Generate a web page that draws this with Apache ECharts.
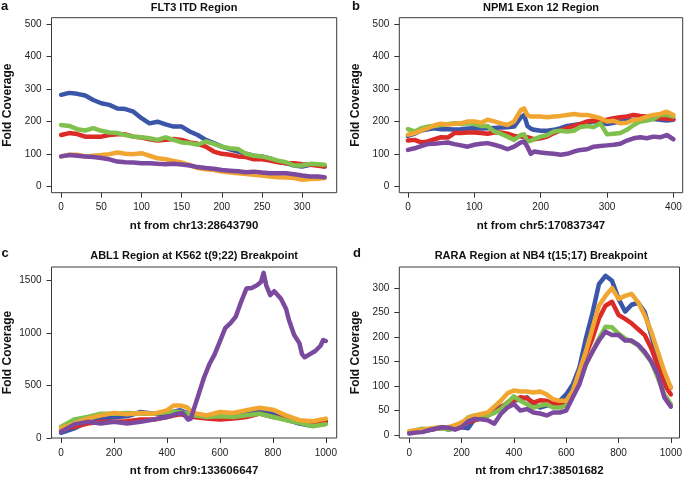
<!DOCTYPE html>
<html><head><meta charset="utf-8">
<script src="https://cdn.jsdelivr.net/npm/echarts@6/dist/echarts.min.js"></script>
<style>html,body{margin:0;padding:0;background:#fff}#c{width:685px;height:478px}</style>
</head><body><div id="c"></div>
<script>
// ---------- Panel a: FLT3 ITD Region ----------
const aX = [0,10,20,30,40,50,60,70,80,90,100,110,120,130,140,150,160,170,180,190,200,210,220,230,240,250,260,270,280,290,300,310,320,328];
const aBlue   = [282,288,285,280,266,256,251,240,238,230,210,194,199,191,184,184,169,158,143,133,122,114,107,100,94,92,86,76,71,64,61,66,66,61];
const aRed    = [158,164,161,153,153,153,158,160,160,153,150,145,141,143,146,143,135,131,122,107,100,97,92,90,83,83,79,74,71,71,68,66,63,61];
const aGreen  = [189,186,176,172,179,171,166,164,158,153,151,148,143,151,143,135,133,128,138,131,122,117,115,100,94,92,86,79,74,64,64,69,68,66];
const aOrange = [92,97,97,92,94,96,99,104,100,99,102,94,86,83,78,73,66,56,52,50,45,42,40,38,35,33,30,28,27,25,20,22,23,25];
const aPurple = [92,96,94,92,90,87,83,76,74,73,71,71,69,68,69,67,64,59,56,54,50,48,46,43,45,42,40,40,40,37,33,30,30,28];

// ---------- Panel b: NPM1 Exon 12 Region ----------
const bX = [0,10,20,30,40,50,60,70,80,90,100,110,120,130,140,150,160,170,175,180,185,190,200,210,220,230,240,250,260,270,280,290,300,310,320,330,340,350,360,370,380,390,400];
const bBlue   = [155,162,172,176,179,176,176,175,176,178,179,178,179,180,181,182,184,212,220,186,178,174,171,171,174,179,186,189,192,196,200,196,192,196,200,203,205,207,210,207,205,203,205];
const bRed    = [141,143,135,138,145,151,150,164,164,166,166,164,162,166,166,162,155,153,152,151,148,145,148,153,164,172,179,186,192,200,203,200,205,210,213,215,220,217,215,210,210,208,207];
const bGreen  = [176,169,179,184,186,189,191,194,192,194,192,186,186,169,162,153,143,158,160,138,140,145,153,158,169,171,169,171,183,186,183,194,160,162,164,174,189,200,203,207,220,220,215];
const bOrange = [159,164,172,179,188,193,190,193,194,200,200,196,205,200,194,189,200,235,240,220,215,215,215,213,215,217,220,223,220,220,215,210,200,202,194,196,205,207,215,220,223,230,220];
const bPurple = [112,117,124,130,131,133,135,130,126,122,128,131,133,128,122,114,122,135,138,122,100,107,104,102,100,97,100,107,112,114,122,124,126,128,131,141,148,151,148,153,151,158,145];

// ---------- Panel c: ABL1 Region at K562 t(9;22) Breakpoint ----------
const cX = [0,50,100,150,200,250,300,350,400,425,450,475,500,550,600,650,700,750,800,850,900,950,1000];
const cBlue   = [50,91,154,176,200,207,248,232,232,250,264,240,226,200,200,200,248,257,232,176,138,115,154];
const cRed    = [82,107,138,154,154,160,176,176,200,215,226,215,200,185,176,185,200,232,200,185,154,138,154];
const cGreen  = [107,176,200,232,232,238,232,232,248,250,248,235,216,200,207,200,216,232,200,170,144,113,132];
const cOrange = [91,138,185,216,238,226,238,232,264,310,310,295,238,216,248,238,264,289,270,216,170,160,185];
const cPurpleX = [0,50,100,150,200,250,300,350,400,440,460,480,490,500,520,540,560,580,600,620,640,660,680,700,720,740,755,765,775,790,805,830,850,860,880,900,910,920,940,960,980,990,1000];
const cPurple  = [60,130,154,138,154,138,154,176,200,232,238,176,185,264,420,577,703,797,922,1048,1095,1158,1299,1425,1431,1456,1487,1575,1456,1362,1400,1330,1230,1130,985,905,800,770,800,830,880,935,925];

// ---------- Panel d: RARA Region at NB4 t(15;17) Breakpoint ----------
const dX = [0,25,50,75,100,125,150,175,200,225,250,275,300,325,350,375,400,425,450,475,500,525,550,575,600,625,650,675,700,725,750,775,800,825,850,875,900,925,950,975,1000];
const dBlue   = [6,8,7,10,13,16,11,14,16,14,33,38,40,50,58,63,70,73,77,63,56,60,63,70,83,103,137,197,248,308,325,315,278,252,266,270,251,204,157,117,97];
const dRed    = [6,7,8,10,13,14,15,18,21,26,30,35,40,46,56,66,71,77,75,66,71,70,64,63,66,83,117,164,197,238,264,272,245,237,228,216,204,177,141,103,83];
const dGreen  = [7,10,13,12,13,14,11,16,23,36,40,40,40,45,53,66,79,70,63,56,60,63,56,56,60,83,110,144,170,197,221,220,207,197,191,183,167,150,117,83,63];
const dOrange = [8,10,11,13,15,16,16,20,26,34,40,43,46,58,70,85,91,89,89,87,89,83,73,70,70,90,130,170,217,264,284,300,278,284,288,271,244,211,170,130,97];
const dPurple = [3,5,6,10,13,16,15,11,16,28,33,32,30,23,43,56,63,50,53,46,44,40,46,46,50,77,103,144,170,193,211,204,204,193,193,184,170,150,124,77,58];

// ---------- Texts / ticks ----------
const panelTitles = ['FLT3 ITD Region','NPM1 Exon 12 Region','ABL1 Region at K562 t(9;22) Breakpoint','RARA Region at NB4 t(15;17) Breakpoint'];
const panelLetters = ['a','b','c','d'];
const xTitles = ['nt from chr13:28643790','nt from chr5:170837347','nt from chr9:133606647','nt from chr17:38501682'];
const yTitle = 'Fold Coverage';
const xTicks = [[0,50,100,150,200,250,300],[0,100,200,300,400],[0,200,400,600,800,1000],[0,200,400,600,800,1000]];
const yTicks = [[0,100,200,300,400,500],[0,100,200,300,400,500],[0,500,1000,1500],[0,50,100,150,200,250,300]];
const seriesNames = ['Sample 1','Sample 2','Sample 3','Sample 4','Sample 5'];
const colors = ['#3b56a8','#dc2b27','#80c04c','#f2a632','#7b4a9e'];

const FONT = "'Liberation Sans', Arial, Helvetica, sans-serif";
const grids = [
  {left:51.5, top:17.7, width:285.2, height:175},
  {left:399.3, top:17.7, width:283.4, height:175},
  {left:51.5, top:267, width:285.2, height:173.7},
  {left:399.3, top:267, width:283.4, height:173.7}
];
const xRanges = [[-12,343],[-13,414],[-36,1041],[-38,1033]];
const yRanges = [[-20,520],[-20,520],[0,1631],[-6,343]];

function zip(xs, ys){ return xs.map((x,i)=>[x, ys[i]]); }
const panelData = [
  [zip(aX,aBlue), zip(aX,aRed), zip(aX,aGreen), zip(aX,aOrange), zip(aX,aPurple)],
  [zip(bX,bBlue), zip(bX,bRed), zip(bX,bGreen), zip(bX,bOrange), zip(bX,bPurple)],
  [zip(cX,cBlue), zip(cX,cRed), zip(cX,cGreen), zip(cX,cOrange), zip(cPurpleX,cPurple)],
  [zip(dX,dBlue), zip(dX,dRed), zip(dX,dGreen), zip(dX,dOrange), zip(dX,dPurple)]
];
const plain = v => String(v);

const option = {
  animation:false,
  backgroundColor:'#fff',
  textStyle:{fontFamily:FONT},
  grid: grids.map(g=>Object.assign({show:true, borderColor:'#3a3a3a', borderWidth:1, backgroundColor:'transparent', containLabel:false}, g)),
  xAxis: grids.map((g,i)=>({
    type:'value', gridIndex:i, min:xRanges[i][0], max:xRanges[i][1],
    axisLine:{show:false, onZero:false},
    axisTick:{show:true, length:5, customValues:xTicks[i], lineStyle:{color:'#333'}},
    axisLabel:{customValues:xTicks[i], formatter:plain, margin:10, fontSize:10, color:'#222', fontFamily:FONT},
    splitLine:{show:false},
    name:xTitles[i], nameLocation:'middle', nameGap:27,
    nameTextStyle:{fontSize:11.5, fontWeight:'bold', color:'#111', fontFamily:FONT}
  })),
  yAxis: grids.map((g,i)=>({
    type:'value', gridIndex:i, min:yRanges[i][0], max:yRanges[i][1],
    axisLine:{show:false, onZero:false},
    axisTick:{show:true, length:5, customValues:yTicks[i], lineStyle:{color:'#333'}},
    axisLabel:{customValues:yTicks[i], formatter:plain, margin:10, fontSize:10, color:'#222', fontFamily:FONT},
    splitLine:{show:false},
    name:yTitle, nameLocation:'middle', nameGap:38,
    nameTextStyle:{fontSize:12, fontWeight:'bold', color:'#111', fontFamily:FONT}
  })),
  series: [],
  graphic: []
};
panelData.forEach((sets,p)=>{
  sets.forEach((d,k)=>{
    option.series.push({
      type:'line', name:seriesNames[k], xAxisIndex:p, yAxisIndex:p, data:d,
      showSymbol:false, symbol:'none', smooth:false,
      lineStyle:{color:colors[k], width:4.5, cap:'round', join:'round'},
      itemStyle:{color:colors[k]}, z:2+k
    });
  });
});
const titlePos = [[194.1,7.5],[541,7.5],[194.1,255.5],[541,255.5]];
const letterPos = [[1,6],[352,6.5],[1.5,253],[353,253]];
panelTitles.forEach((t,i)=>{
  option.graphic.push({type:'text', x:titlePos[i][0], y:titlePos[i][1],
    style:{text:t, fill:'#111', font:"bold 11px "+FONT, align:'center', verticalAlign:'middle', textAlign:'center', textVerticalAlign:'middle'}});
  option.graphic.push({type:'text', x:letterPos[i][0], y:letterPos[i][1],
    style:{text:panelLetters[i], fill:'#111', font:"bold 13px "+FONT, align:'left', verticalAlign:'middle', textAlign:'left', textVerticalAlign:'middle'}});
});
const chart = echarts.init(document.getElementById('c'), null, {renderer:'canvas'});
chart.setOption(option);
</script></body></html>
